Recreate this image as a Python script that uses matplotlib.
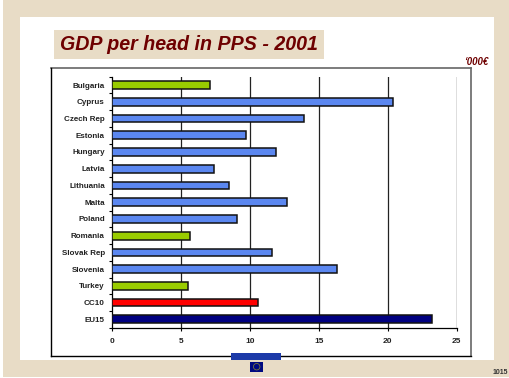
import matplotlib
matplotlib.use('Agg')
from matplotlib import pyplot as plt
from matplotlib.patches import Rectangle

plt.rcParams['font.family'] = ['Liberation Sans', 'DejaVu Sans']

W, H = 510, 378

countries = ['Bulgaria', 'Cyprus', 'Czech Rep', 'Estonia', 'Hungary', 'Latvia', 'Lithuania', 'Malta',
             'Poland', 'Romania', 'Slovak Rep', 'Slovenia', 'Turkey', 'CC10', 'EU15']
gdp = [7.1, 20.4, 13.9, 9.7, 11.9, 7.4, 8.5, 12.7, 9.1, 5.7, 11.6, 16.3, 5.5, 10.6, 23.2]
bar_colors = ['#99cc00', '#5b87f0', '#5b87f0', '#5b87f0', '#5b87f0', '#5b87f0', '#5b87f0', '#5b87f0',
              '#5b87f0', '#99cc00', '#5b87f0', '#5b87f0', '#99cc00', '#ff0000', '#000080']
x_ticks = [0, 5, 10, 15, 20, 25]

BEIGE = '#e8dcc6'
DARKRED = '#6e0000'

fig = plt.figure(figsize=(W / 100, H / 100), dpi=100, facecolor='white')

# slide decoration, in pixel coordinates
bg = fig.add_axes([0, 0, 1, 1])
bg.set_xlim(0, W)
bg.set_ylim(H, 0)
bg.axis('off')
bg.add_patch(Rectangle((3, 0), W - 3, H - 1, fc=BEIGE, ec='none'))
bg.add_patch(Rectangle((20, 17), 474, 343, fc='white', ec='none'))
bg.add_patch(Rectangle((54, 30), 270, 29, fc=BEIGE, ec='none'))
bg.text(60, 45, 'GDP per head in PPS - 2001', fontsize=14.1, fontweight='bold', fontstyle='italic',
        color=DARKRED, ha='left', va='center')
bg.text(488, 62, '‘000€', fontsize=7, fontweight='bold', fontstyle='italic', color=DARKRED,
        ha='right', va='center')
# outer chart frame
bg.plot([51.5, 471], [68, 68], color='#666666', lw=1.2)
bg.plot([471, 471], [68, 356], color='#666666', lw=1.2)
bg.plot([51.5, 51.5], [68, 356], color='black', lw=1)
bg.plot([51.5, 471], [356, 356], color='black', lw=1)
# footer banner and flag
bg.add_patch(Rectangle((231, 353), 50, 7, fc='#1c3aa8', ec='none', zorder=3))
bg.add_patch(Rectangle((250, 362), 13.5, 9.5, fc='#000a80', ec='none'))
bg.scatter([256.7], [366.7], s=22, fc='none', ec='#8f8a30', lw=0.5)
bg.text(508, 373, '1015', fontsize=5, fontweight='bold', color='#333333', ha='right', va='center')

ax = fig.add_axes([111.7 / W, 1 - 327.7 / H, (456.7 - 111.7) / W, (327.7 - 76.7) / H])
ax.patch.set_alpha(0)
ax.barh(countries, gdp, height=0.46, color=bar_colors, edgecolor='#111111', linewidth=1.1, zorder=3)
ax.set_xlim(0, 25)
ax.set_ylim(14.5, -0.5)

for x in x_ticks[1:-1]:
    ax.axvline(x, color='#222222', lw=0.9, zorder=1)
ax.axvline(25, color='#d4d4d4', lw=1.8, zorder=1)

ax.spines['top'].set_visible(False)
ax.spines['right'].set_visible(False)
ax.spines['left'].set_linewidth(0.9)
ax.spines['bottom'].set_linewidth(0.9)

ax.set_xticks(x_ticks)
ax.set_xticklabels([str(x) for x in x_ticks], fontsize=6, fontweight='bold', color='#222222')
ax.set_yticks(range(len(countries)))
ax.set_yticklabels(countries, fontsize=5.8, fontweight='bold', color='#222222')
ax.set_yticks([i - 0.5 for i in range(len(countries) + 1)], minor=True)
ax.tick_params(axis='y', which='major', length=0, pad=5)
ax.tick_params(axis='y', which='minor', length=2, width=0.8, direction='out')
ax.tick_params(axis='x', length=2, width=0.8, pad=5.5)

fig.savefig('out.png', dpi=100)
